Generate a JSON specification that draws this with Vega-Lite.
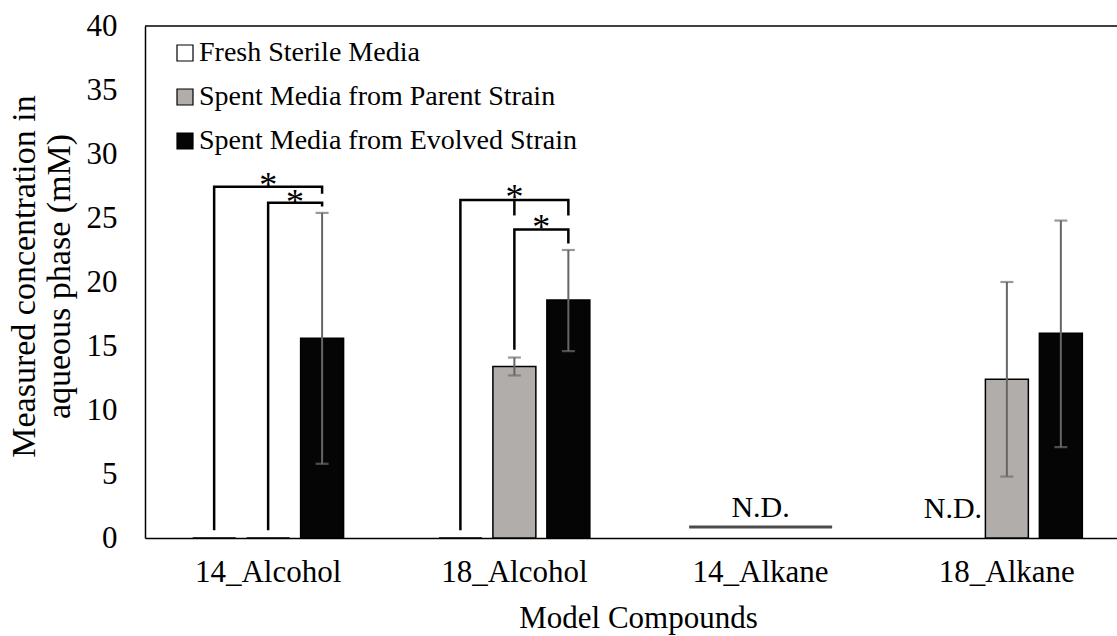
{
  "$schema": "https://vega.github.io/schema/vega-lite/v6.json",
  "width": 972,
  "height": 512,
  "autosize": {"type": "none"},
  "padding": {"left": 145, "top": 26, "right": 0, "bottom": 98},
  "background": "white",
  "config": {"view": {"stroke": null}, "font": "Liberation Serif"},
  "datasets": {
    "bars": [
      {"compound": "14_Alcohol", "media": "Fresh Sterile Media", "value": 0},
      {"compound": "14_Alcohol", "media": "Spent Media from Parent Strain", "value": 0},
      {"compound": "14_Alcohol", "media": "Spent Media from Evolved Strain", "value": 15.6, "lo": 5.8, "hi": 25.4},
      {"compound": "18_Alcohol", "media": "Fresh Sterile Media", "value": 0},
      {"compound": "18_Alcohol", "media": "Spent Media from Parent Strain", "value": 13.4, "lo": 12.7, "hi": 14.1},
      {"compound": "18_Alcohol", "media": "Spent Media from Evolved Strain", "value": 18.6, "lo": 14.6, "hi": 22.5},
      {"compound": "18_Alkane", "media": "Spent Media from Parent Strain", "value": 12.4, "lo": 4.8, "hi": 20.0},
      {"compound": "18_Alkane", "media": "Spent Media from Evolved Strain", "value": 16.0, "lo": 7.1, "hi": 24.8}
    ],
    "brackets": [
      {"id": "b1", "ord": 1, "compound": "14_Alcohol", "media": "Fresh Sterile Media", "y": 0.6},
      {"id": "b1", "ord": 2, "compound": "14_Alcohol", "media": "Fresh Sterile Media", "y": 27.45},
      {"id": "b1", "ord": 3, "compound": "14_Alcohol", "media": "Spent Media from Evolved Strain", "y": 27.45},
      {"id": "b1", "ord": 4, "compound": "14_Alcohol", "media": "Spent Media from Evolved Strain", "y": 26.9},
      {"id": "b2", "ord": 1, "compound": "14_Alcohol", "media": "Spent Media from Parent Strain", "y": 0.6},
      {"id": "b2", "ord": 2, "compound": "14_Alcohol", "media": "Spent Media from Parent Strain", "y": 26.2},
      {"id": "b2", "ord": 3, "compound": "14_Alcohol", "media": "Spent Media from Evolved Strain", "y": 26.2},
      {"id": "b2", "ord": 4, "compound": "14_Alcohol", "media": "Spent Media from Evolved Strain", "y": 25.9},
      {"id": "b3", "ord": 1, "compound": "18_Alcohol", "media": "Fresh Sterile Media", "y": 0.6},
      {"id": "b3", "ord": 2, "compound": "18_Alcohol", "media": "Fresh Sterile Media", "y": 26.4},
      {"id": "b3", "ord": 3, "compound": "18_Alcohol", "media": "Spent Media from Evolved Strain", "y": 26.4},
      {"id": "b3", "ord": 4, "compound": "18_Alcohol", "media": "Spent Media from Evolved Strain", "y": 25.2},
      {"id": "b4", "ord": 1, "compound": "18_Alcohol", "media": "Spent Media from Parent Strain", "y": 26.4},
      {"id": "b4", "ord": 2, "compound": "18_Alcohol", "media": "Spent Media from Parent Strain", "y": 25.2},
      {"id": "b5", "ord": 1, "compound": "18_Alcohol", "media": "Spent Media from Parent Strain", "y": 14.7},
      {"id": "b5", "ord": 2, "compound": "18_Alcohol", "media": "Spent Media from Parent Strain", "y": 24.1},
      {"id": "b5", "ord": 3, "compound": "18_Alcohol", "media": "Spent Media from Evolved Strain", "y": 24.1},
      {"id": "b5", "ord": 4, "compound": "18_Alcohol", "media": "Spent Media from Evolved Strain", "y": 23.0}
    ],
    "stars": [
      {"compound": "14_Alcohol", "media": "Spent Media from Parent Strain", "y": 28.05, "place": "on", "label": "*"},
      {"compound": "18_Alcohol", "media": "Spent Media from Parent Strain", "y": 27.1, "place": "on", "label": "*"},
      {"compound": "14_Alcohol", "media": "Spent Media from Evolved Strain", "y": 26.7, "place": "between", "label": "*"},
      {"compound": "18_Alcohol", "media": "Spent Media from Evolved Strain", "y": 24.8, "place": "between", "label": "*"}
    ],
    "nd": [
      {"compound": "14_Alkane", "media": "Spent Media from Parent Strain", "label": "N.D.", "y": 1.65},
      {"compound": "18_Alkane", "media": "Fresh Sterile Media", "label": "N.D.", "y": 1.6}
    ],
    "ndline": [
      {"compound": "14_Alkane", "media": "Spent Media from Parent Strain", "y": 0.85}
    ],
    "frame": [{"y": 40}]
  },
  "layer": [
    {
      "data": {"name": "frame"},
      "mark": {"type": "rule", "color": "black", "strokeWidth": 1.5},
      "encoding": {
        "y": {"field": "y", "type": "quantitative", "scale": {"domain": [0, 40], "nice": false}}
      }
    },
    {
      "data": {"name": "bars"},
      "mark": {"type": "bar", "stroke": "black", "strokeWidth": 1.5},
      "encoding": {
        "x": {
          "field": "compound", "type": "nominal",
          "sort": ["14_Alcohol", "18_Alcohol", "14_Alkane", "18_Alkane"],
          "scale": {"domain": ["14_Alcohol", "18_Alcohol", "14_Alkane", "18_Alkane"], "range": [0, 985], "paddingInner": 0, "paddingOuter": 0},
          "title": "Model Compounds",
          "axis": {
            "labelAngle": 0, "labelFont": "Liberation Serif", "labelFontSize": 31, "labelColor": "black", "labelPadding": 19, "labelLimit": 400,
            "ticks": false, "domainColor": "black", "domainWidth": 1.5, "grid": false,
            "titleFont": "Liberation Serif", "titleFontSize": 31, "titleFontWeight": "normal", "titleColor": "black",
            "titleBaseline": "alphabetic", "titleAlign": "center", "titleX": 493, "titleY": 89
          }
        },
        "xOffset": {
          "field": "media", "type": "nominal",
          "sort": ["Fresh Sterile Media", "Spent Media from Parent Strain", "Spent Media from Evolved Strain"],
          "scale": {"domain": ["Fresh Sterile Media", "Spent Media from Parent Strain", "Spent Media from Evolved Strain"], "paddingInner": 0.204, "paddingOuter": 0.883}
        },
        "y": {
          "field": "value", "type": "quantitative",
          "scale": {"domain": [0, 40], "nice": false},
          "title": ["Measured concentration in", "aqueous phase (mM)"],
          "axis": {
            "values": [0, 5, 10, 15, 20, 25, 30, 35, 40], "labelFont": "Liberation Serif", "labelFontSize": 31, "labelColor": "black", "labelPadding": 28,
            "ticks": false, "grid": false, "domainColor": "black", "domainWidth": 1.5, "labelOverlap": false,
            "titleFont": "Liberation Serif", "titleFontSize": 34, "titleFontWeight": "normal", "titleColor": "black", "titleLineHeight": 35,
            "titleAngle": 270, "titleAlign": "center", "titleBaseline": "top", "titleX": -138, "titleY": 250
          }
        },
        "fill": {
          "field": "media", "type": "nominal",
          "sort": ["Fresh Sterile Media", "Spent Media from Parent Strain", "Spent Media from Evolved Strain"],
          "scale": {"domain": ["Fresh Sterile Media", "Spent Media from Parent Strain", "Spent Media from Evolved Strain"], "range": ["#ffffff", "#b0adab", "#050505"]},
          "legend": {
            "orient": "none", "legendX": 26, "legendY": 13, "title": null, "padding": 0,
            "symbolType": "square", "symbolSize": 256, "symbolStrokeColor": "black", "symbolStrokeWidth": 1.2, "symbolOpacity": 1,
            "labelFont": "Liberation Serif", "labelFontSize": 28, "labelColor": "black", "labelLimit": 700, "labelOffset": 0, "rowPadding": 16
          }
        }
      }
    },
    {
      "data": {"name": "bars"},
      "transform": [{"filter": "isValid(datum.lo)"}],
      "mark": {"type": "rule", "color": "#666666", "strokeWidth": 2},
      "encoding": {
        "x": {"field": "compound", "type": "nominal", "sort": ["14_Alcohol", "18_Alcohol", "14_Alkane", "18_Alkane"], "scale": {"domain": ["14_Alcohol", "18_Alcohol", "14_Alkane", "18_Alkane"], "range": [0, 985], "paddingInner": 0, "paddingOuter": 0}},
        "xOffset": {"field": "media", "type": "nominal", "sort": ["Fresh Sterile Media", "Spent Media from Parent Strain", "Spent Media from Evolved Strain"], "scale": {"domain": ["Fresh Sterile Media", "Spent Media from Parent Strain", "Spent Media from Evolved Strain"], "paddingInner": 0.204, "paddingOuter": 0.883}},
        "y": {"field": "lo", "type": "quantitative", "scale": {"domain": [0, 40], "nice": false}},
        "y2": {"field": "hi"}
      }
    },
    {
      "data": {"name": "bars"},
      "transform": [{"filter": "isValid(datum.lo)"}, {"fold": ["lo", "hi"], "as": ["cap", "capy"]}],
      "mark": {"type": "tick", "orient": "horizontal", "size": 13, "thickness": 2.2, "color": "#6e6e6e"},
      "encoding": {
        "x": {"field": "compound", "type": "nominal", "sort": ["14_Alcohol", "18_Alcohol", "14_Alkane", "18_Alkane"], "scale": {"domain": ["14_Alcohol", "18_Alcohol", "14_Alkane", "18_Alkane"], "range": [0, 985], "paddingInner": 0, "paddingOuter": 0}},
        "xOffset": {"field": "media", "type": "nominal", "sort": ["Fresh Sterile Media", "Spent Media from Parent Strain", "Spent Media from Evolved Strain"], "scale": {"domain": ["Fresh Sterile Media", "Spent Media from Parent Strain", "Spent Media from Evolved Strain"], "paddingInner": 0.204, "paddingOuter": 0.883}},
        "y": {"field": "capy", "type": "quantitative", "scale": {"domain": [0, 40], "nice": false}}
      }
    },
    {
      "data": {"name": "brackets"},
      "mark": {"type": "line", "color": "black", "strokeWidth": 2.5, "strokeJoin": "miter", "strokeCap": "butt"},
      "encoding": {
        "x": {"field": "compound", "type": "nominal", "sort": ["14_Alcohol", "18_Alcohol", "14_Alkane", "18_Alkane"], "scale": {"domain": ["14_Alcohol", "18_Alcohol", "14_Alkane", "18_Alkane"], "range": [0, 985], "paddingInner": 0, "paddingOuter": 0}},
        "xOffset": {"field": "media", "type": "nominal", "sort": ["Fresh Sterile Media", "Spent Media from Parent Strain", "Spent Media from Evolved Strain"], "scale": {"domain": ["Fresh Sterile Media", "Spent Media from Parent Strain", "Spent Media from Evolved Strain"], "paddingInner": 0.204, "paddingOuter": 0.883}},
        "y": {"field": "y", "type": "quantitative", "scale": {"domain": [0, 40], "nice": false}},
        "detail": {"field": "id", "type": "nominal"},
        "order": {"field": "ord", "type": "quantitative"}
      }
    },
    {
      "data": {"name": "stars"},
      "transform": [{"filter": "datum.place === 'on'"}],
      "mark": {"type": "text", "font": "Liberation Serif", "fontSize": 36, "color": "black", "baseline": "middle", "align": "center", "dy": 7},
      "encoding": {
        "x": {"field": "compound", "type": "nominal", "sort": ["14_Alcohol", "18_Alcohol", "14_Alkane", "18_Alkane"], "scale": {"domain": ["14_Alcohol", "18_Alcohol", "14_Alkane", "18_Alkane"], "range": [0, 985], "paddingInner": 0, "paddingOuter": 0}},
        "xOffset": {"field": "media", "type": "nominal", "sort": ["Fresh Sterile Media", "Spent Media from Parent Strain", "Spent Media from Evolved Strain"], "scale": {"domain": ["Fresh Sterile Media", "Spent Media from Parent Strain", "Spent Media from Evolved Strain"], "paddingInner": 0.204, "paddingOuter": 0.883}},
        "y": {"field": "y", "type": "quantitative", "scale": {"domain": [0, 40], "nice": false}},
        "text": {"field": "label"}
      }
    },
    {
      "data": {"name": "stars"},
      "transform": [{"filter": "datum.place === 'between'"}],
      "mark": {"type": "text", "font": "Liberation Serif", "fontSize": 36, "color": "black", "baseline": "middle", "align": "center", "dy": 7, "dx": -27},
      "encoding": {
        "x": {"field": "compound", "type": "nominal", "sort": ["14_Alcohol", "18_Alcohol", "14_Alkane", "18_Alkane"], "scale": {"domain": ["14_Alcohol", "18_Alcohol", "14_Alkane", "18_Alkane"], "range": [0, 985], "paddingInner": 0, "paddingOuter": 0}},
        "xOffset": {"field": "media", "type": "nominal", "sort": ["Fresh Sterile Media", "Spent Media from Parent Strain", "Spent Media from Evolved Strain"], "scale": {"domain": ["Fresh Sterile Media", "Spent Media from Parent Strain", "Spent Media from Evolved Strain"], "paddingInner": 0.204, "paddingOuter": 0.883}},
        "y": {"field": "y", "type": "quantitative", "scale": {"domain": [0, 40], "nice": false}},
        "text": {"field": "label"}
      }
    },
    {
      "data": {"name": "ndline"},
      "mark": {"type": "tick", "orient": "horizontal", "size": 143, "thickness": 3, "color": "black"},
      "encoding": {
        "x": {"field": "compound", "type": "nominal", "sort": ["14_Alcohol", "18_Alcohol", "14_Alkane", "18_Alkane"], "scale": {"domain": ["14_Alcohol", "18_Alcohol", "14_Alkane", "18_Alkane"], "range": [0, 985], "paddingInner": 0, "paddingOuter": 0}},
        "xOffset": {"field": "media", "type": "nominal", "sort": ["Fresh Sterile Media", "Spent Media from Parent Strain", "Spent Media from Evolved Strain"], "scale": {"domain": ["Fresh Sterile Media", "Spent Media from Parent Strain", "Spent Media from Evolved Strain"], "paddingInner": 0.204, "paddingOuter": 0.883}},
        "y": {"field": "y", "type": "quantitative", "scale": {"domain": [0, 40], "nice": false}}
      }
    },
    {
      "data": {"name": "nd"},
      "mark": {"type": "text", "font": "Liberation Serif", "fontSize": 30, "color": "black", "baseline": "alphabetic", "align": "center"},
      "encoding": {
        "x": {"field": "compound", "type": "nominal", "sort": ["14_Alcohol", "18_Alcohol", "14_Alkane", "18_Alkane"], "scale": {"domain": ["14_Alcohol", "18_Alcohol", "14_Alkane", "18_Alkane"], "range": [0, 985], "paddingInner": 0, "paddingOuter": 0}},
        "xOffset": {"field": "media", "type": "nominal", "sort": ["Fresh Sterile Media", "Spent Media from Parent Strain", "Spent Media from Evolved Strain"], "scale": {"domain": ["Fresh Sterile Media", "Spent Media from Parent Strain", "Spent Media from Evolved Strain"], "paddingInner": 0.204, "paddingOuter": 0.883}},
        "y": {"field": "y", "type": "quantitative", "scale": {"domain": [0, 40], "nice": false}},
        "text": {"field": "label"}
      }
    }
  ]
}
